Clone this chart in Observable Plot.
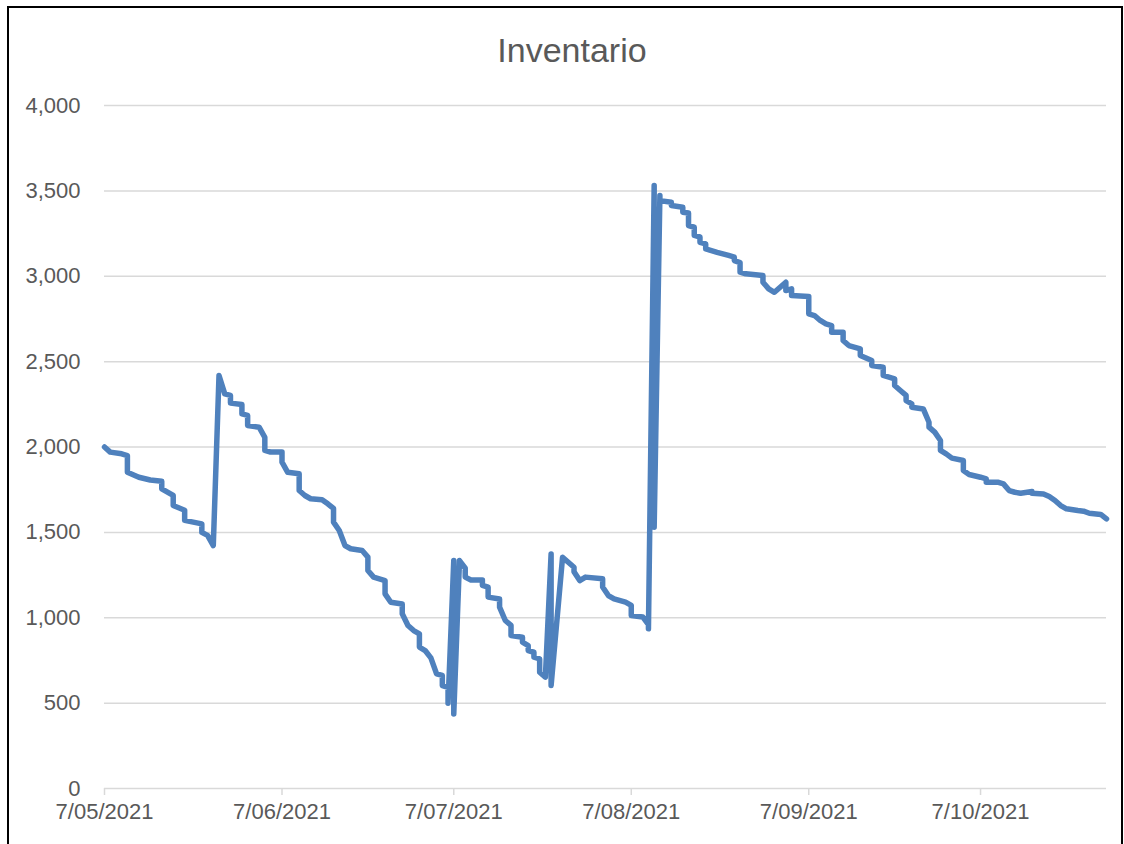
<!DOCTYPE html>
<html>
<head>
<meta charset="utf-8">
<script src="https://cdn.jsdelivr.net/npm/d3@7"></script>
<script src="https://cdn.jsdelivr.net/npm/@observablehq/plot@0.6"></script>
<style>
html, body { margin: 0; padding: 0; background: #fff; }
#wrap { position: relative; width: 1124px; height: 844px; overflow: hidden; font-family: "Liberation Sans", Arial, sans-serif; }
#frame { position: absolute; left: 7px; top: 6px; width: 1116px; height: 900px; border: 2px solid #000; box-sizing: border-box; pointer-events: none; }
#title { position: absolute; left: 0; top: 33px; width: 1144px; text-align: center; font-size: 34px; line-height: 34px; color: #595959; }
#chart { position: absolute; left: 0; top: 0; }
</style>
</head>
<body>
<div id="wrap">
  <div id="chart"></div>
  <div id="title">Inventario</div>
  <div id="frame"></div>
</div>
<script>
const titleText = "Inventario";

const dates = [
  "2021-05-07","2021-05-08","2021-05-10","2021-05-11","2021-05-11","2021-05-13","2021-05-15","2021-05-17","2021-05-17","2021-05-19",
  "2021-05-19","2021-05-21","2021-05-21","2021-05-24","2021-05-24","2021-05-25","2021-05-26","2021-05-27","2021-05-28","2021-05-29",
  "2021-05-29","2021-05-31","2021-05-31","2021-06-01","2021-06-01","2021-06-03","2021-06-04","2021-06-04","2021-06-05","2021-06-07",
  "2021-06-07","2021-06-08","2021-06-10","2021-06-10","2021-06-11","2021-06-12","2021-06-14","2021-06-15","2021-06-16","2021-06-16",
  "2021-06-17","2021-06-18","2021-06-19","2021-06-21","2021-06-22","2021-06-22","2021-06-23","2021-06-25","2021-06-25","2021-06-26",
  "2021-06-28","2021-06-28","2021-06-29","2021-06-30","2021-07-01","2021-07-01","2021-07-02","2021-07-03","2021-07-04","2021-07-05",
  "2021-07-05","2021-07-06","2021-07-06","2021-07-07","2021-07-07","2021-07-08","2021-07-09","2021-07-09","2021-07-10","2021-07-12",
  "2021-07-12","2021-07-13","2021-07-13","2021-07-15","2021-07-15","2021-07-16","2021-07-17","2021-07-17","2021-07-19","2021-07-19",
  "2021-07-20","2021-07-20","2021-07-21","2021-07-21","2021-07-22","2021-07-22","2021-07-23","2021-07-24","2021-07-24","2021-07-26",
  "2021-07-27","2021-07-28","2021-07-28","2021-07-29","2021-07-30","2021-08-02","2021-08-02","2021-08-03","2021-08-04","2021-08-06",
  "2021-08-07","2021-08-07","2021-08-09","2021-08-10","2021-08-10","2021-08-11","2021-08-11","2021-08-12","2021-08-12","2021-08-14",
  "2021-08-14","2021-08-16","2021-08-16","2021-08-17","2021-08-17","2021-08-18","2021-08-18","2021-08-19","2021-08-19","2021-08-20",
  "2021-08-20","2021-08-22","2021-08-24","2021-08-25","2021-08-25","2021-08-26","2021-08-26","2021-08-27","2021-08-30","2021-08-30",
  "2021-08-31","2021-09-01","2021-09-03","2021-09-03","2021-09-04","2021-09-04","2021-09-07","2021-09-07","2021-09-08","2021-09-09",
  "2021-09-10","2021-09-11","2021-09-11","2021-09-13","2021-09-13","2021-09-14","2021-09-16","2021-09-16","2021-09-18","2021-09-18",
  "2021-09-20","2021-09-20","2021-09-22","2021-09-22","2021-09-23","2021-09-24","2021-09-24","2021-09-25","2021-09-25","2021-09-27",
  "2021-09-28","2021-09-28","2021-09-29","2021-09-30","2021-09-30","2021-10-01","2021-10-02","2021-10-04","2021-10-04","2021-10-05",
  "2021-10-07","2021-10-08","2021-10-08","2021-10-10","2021-10-11","2021-10-12","2021-10-13","2021-10-14","2021-10-16","2021-10-16",
  "2021-10-18","2021-10-19","2021-10-20","2021-10-21","2021-10-22","2021-10-24","2021-10-25","2021-10-26","2021-10-28","2021-10-29"
];

const inventory = [
  2000,1970,1960,1950,1852,1823,1807,1800,1755,1716,
  1657,1630,1570,1550,1500,1482,1423,2419,2311,2302,
  2257,2249,2194,2185,2126,2116,2057,1980,1970,1970,
  1911,1852,1843,1745,1716,1697,1691,1667,1640,1560,
  1511,1423,1404,1394,1355,1277,1238,1218,1140,1091,
  1081,1023,955,925,906,828,808,765,671,662,
  603,593,500,1335,437,1335,1290,1238,1221,1221,
  1190,1179,1121,1110,1062,984,955,896,886,857,
  837,808,798,769,759,681,652,1374,603,1354,
  1325,1296,1270,1218,1238,1228,1180,1130,1110,1091,
  1072,1013,1005,960,935,3531,1530,3473,3443,3433,
  3414,3404,3375,3370,3297,3287,3239,3230,3199,3189,
  3160,3140,3122,3112,3092,3080,3024,3014,3004,2965,
  2926,2906,2965,2916,2926,2887,2881,2780,2770,2741,
  2721,2711,2672,2672,2624,2594,2575,2536,2507,2477,
  2467,2419,2399,2360,2331,2302,2272,2253,2233,2223,
  2145,2116,2087,2038,1980,1960,1935,1921,1862,1839,
  1823,1813,1794,1794,1784,1745,1735,1729,1739,1729,
  1725,1710,1687,1657,1638,1628,1624,1612,1605,1579
];

const xTickDates = ["2021-05-07","2021-06-07","2021-07-07","2021-08-07","2021-09-07","2021-10-07"];
const yTicks = [0, 500, 1000, 1500, 2000, 2500, 3000, 3500, 4000];
const xDomain = ["2021-05-07", "2021-10-29"];

const data = dates.map((d, i) => ({date: new Date(d), value: inventory[i]}));
const fmtDate = d3.utcFormat("%-d/%m/%Y");

const chart = Plot.plot({
  width: 1124,
  height: 844,
  marginLeft: 104,
  marginRight: 18,
  marginTop: 105,
  marginBottom: 56,
  style: {fontFamily: "'Liberation Sans', Arial, sans-serif", fontSize: "22px", background: "transparent"},
  x: {type: "utc", domain: xDomain.map(d => new Date(d))},
  y: {domain: [0, 4000]},
  marks: [
    Plot.gridY(yTicks.filter(v => v > 0), {stroke: "#d9d9d9", strokeOpacity: 1, strokeWidth: 1.5}),
    Plot.ruleY([0], {stroke: "#d9d9d9", strokeWidth: 1.5}),
    Plot.axisY({ticks: yTicks, tickSize: 0, tickPadding: 24, tickFormat: d3.format(","), fill: "#595959", fontSize: 22, label: null}),
    Plot.axisX({ticks: xTickDates.map(d => new Date(d)), tickSize: 7, tickPadding: 8, tickFormat: fmtDate, stroke: "#d9d9d9", strokeWidth: 1.5, fill: "#595959", fontSize: 22, label: null}),
    Plot.lineY(data, {x: "date", y: "value", stroke: "#4f81bd", strokeWidth: 5.5, strokeLinejoin: "round", strokeLinecap: "round"})
  ]
});
document.getElementById("chart").appendChild(chart);
</script>
</body>
</html>
